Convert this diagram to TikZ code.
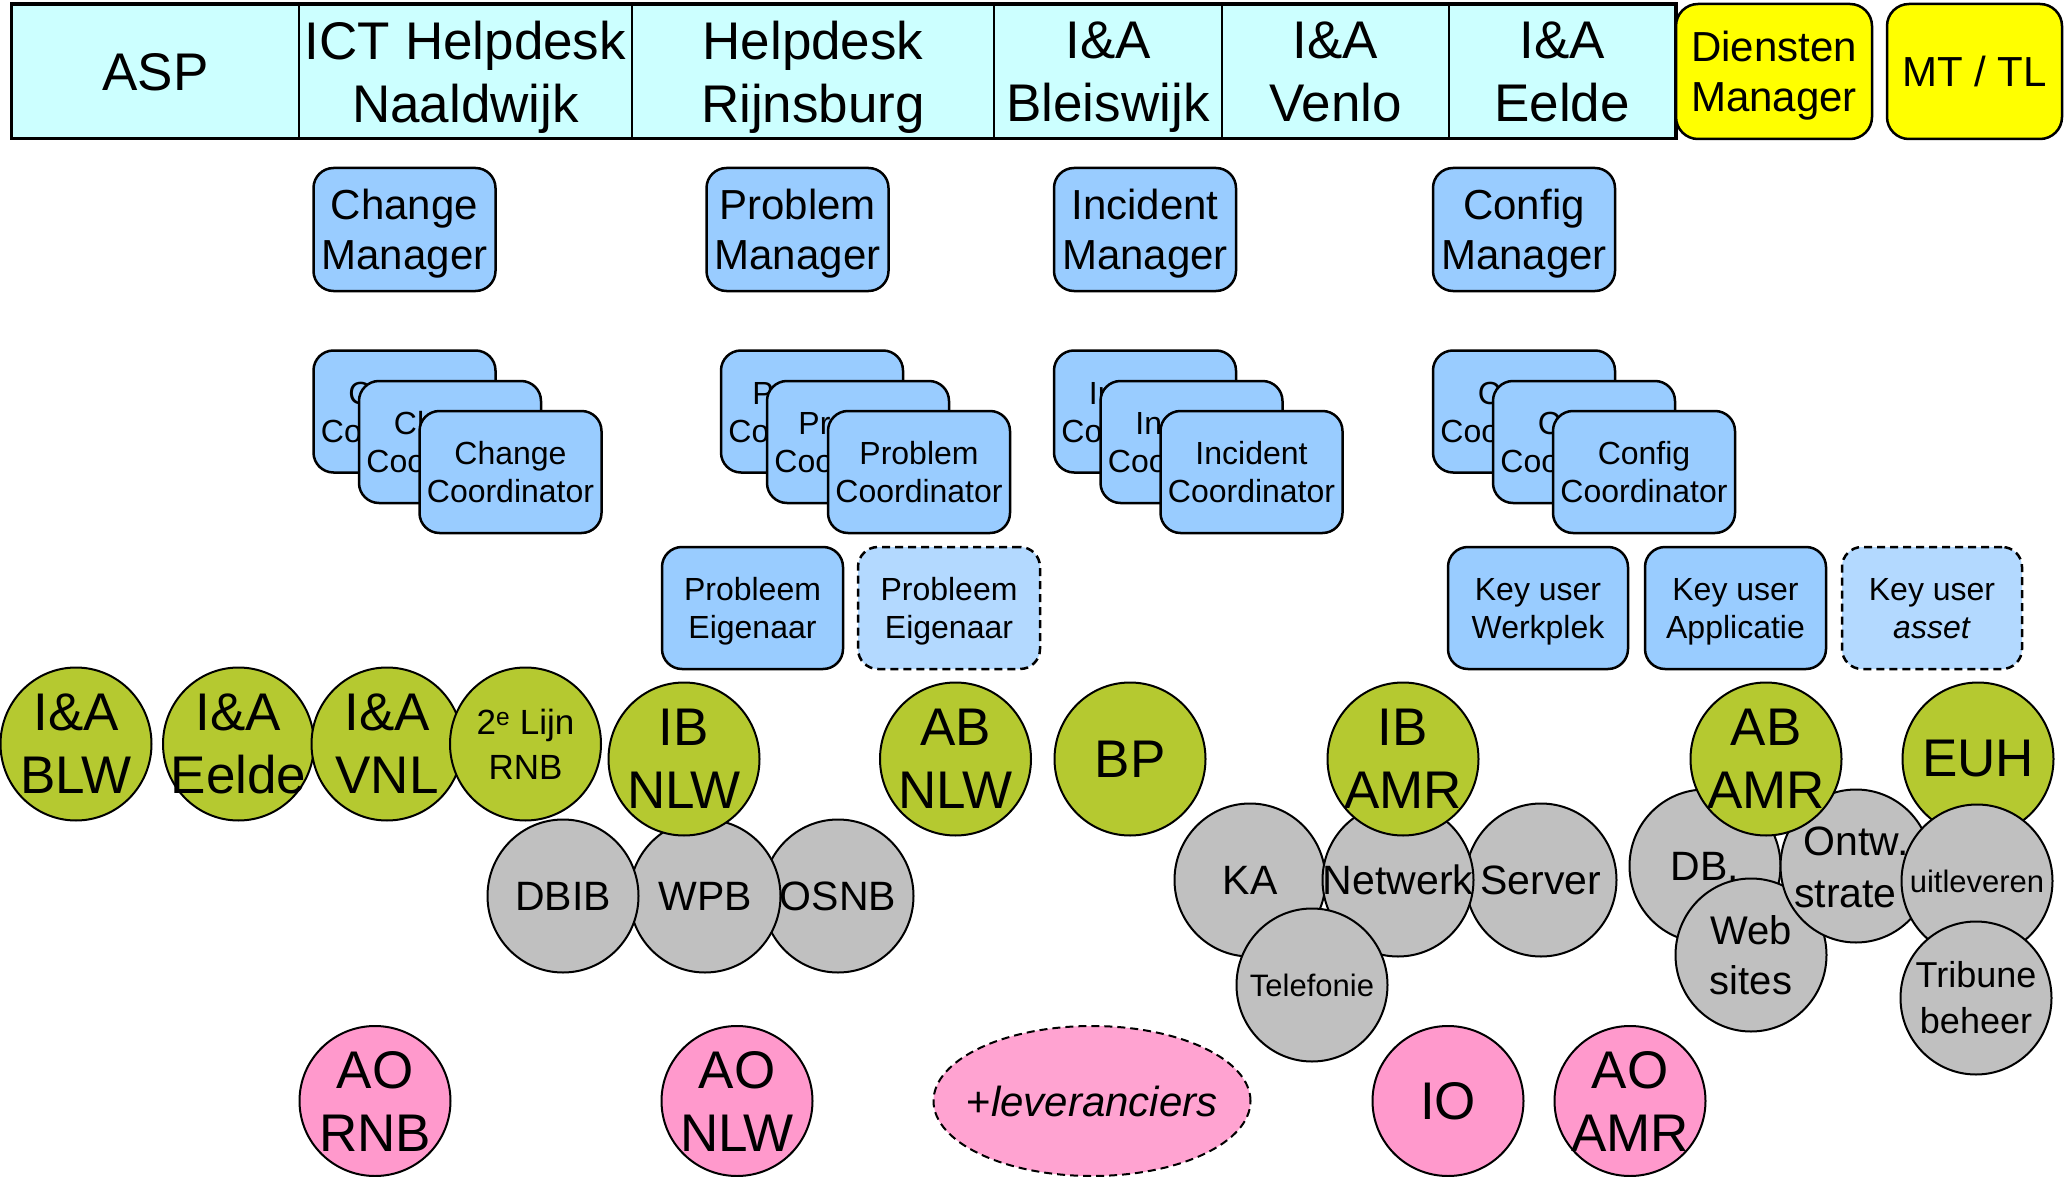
\documentclass[tikz,border=0pt]{standalone}
\usepackage{fontspec}
\setmainfont{Liberation Sans}
\usetikzlibrary{shapes.geometric}
\definecolor{hdr}{HTML}{CCFFFF}
\definecolor{yel}{HTML}{FFFF00}
\definecolor{blu}{HTML}{99CCFF}
\definecolor{lblu}{HTML}{B3D9FF}
\definecolor{grn}{HTML}{B5C930}
\definecolor{gry}{HTML}{C0C0C0}
\definecolor{pnk}{HTML}{FF99CC}
\definecolor{lpnk}{HTML}{FFA3D1}
\begin{document}
\begin{tikzpicture}[x=1pt,y=-1pt,
  every node/.style={inner sep=0pt, align=center},
  every label/.style={align=center, inner sep=0pt},
  hcell/.style={draw, fill=hdr, line width=2pt, minimum height=133pt, text depth=0pt, font=\fontsize{53}{63}\selectfont},
  ybox/.style={draw, fill=yel, rounded corners=22pt, line width=2.5pt, minimum height=135pt, text depth=0pt, font=\fontsize{42}{50}\selectfont},
  mgr/.style={draw, fill=blu, rounded corners=20pt, line width=2.5pt, minimum width=182pt, minimum height=123pt, text depth=0pt, font=\fontsize{42}{50}\selectfont},
  crd/.style={draw, fill=blu, rounded corners=20pt, line width=2.5pt, minimum width=182pt, minimum height=122pt, text depth=0pt, font=\fontsize{32}{38}\selectfont},
  dsh/.style={fill=lblu, dash pattern=on 8pt off 5pt},
  circ/.style={ellipse, draw, line width=2pt, minimum width=151pt, minimum height=153pt},
  gc/.style={circ, fill=grn},
  gr/.style={circ, fill=gry},
  pk/.style={circ, fill=pnk, minimum height=150pt},
  big/.style={font=\fontsize{53}{63}\selectfont},
  mid/.style={font=\fontsize{41}{50}\selectfont},
  sml/.style={font=\fontsize{31}{38}\selectfont}
]
\useasboundingbox (0,0) rectangle (2065,1177);

% header
\node[hcell, minimum width=287pt] (asp) at (155.5,71.5) {ASP};
\node[hcell, minimum width=333pt] (ict) at (465.5,71.5) {ICT Helpdesk\\Naaldwijk};
\node[hcell, minimum width=362pt] (rijn) at (813,71.5) {Helpdesk\\Rijnsburg};
\node[hcell, minimum width=228pt] (blei) at (1108,71.5) {I\&A\\Bleiswijk};
\node[hcell, minimum width=227pt] (venl) at (1335.5,71.5) {I\&A\\Venlo};
\node[hcell, minimum width=226pt] (eeld) at (1562,71.5) {I\&A\\Eelde};
\draw[line width=3pt] (asp.north west) rectangle (eeld.south east);
\node[ybox, minimum width=196pt] (dienst) at (1774,71.5) {Diensten\\Manager};
\node[ybox, minimum width=175pt] (mttl) at (1974.5,71.5) {MT / TL};

% managers
\node[mgr] (cm) at (404.5,229.5) {Change\\Manager};
\node[mgr] (pm) at (797.5,229.5) {Problem\\Manager};
\node[mgr] (im) at (1145,229.5) {Incident\\Manager};
\node[mgr] (km) at (1524,229.5) {Config\\Manager};

% coordinators
\node[crd] (cc1) at (404.5,411.5) {Change\\Coordinator};
\node[crd] (cc2) at (450,442) {Change\\Coordinator};
\node[crd] (cc3) at (510.5,472) {Change\\Coordinator};
\node[crd] (pc1) at (812,411.5) {Problem\\Coordinator};
\node[crd] (pc2) at (858,442) {Problem\\Coordinator};
\node[crd] (pc3) at (919,472) {Problem\\Coordinator};
\node[crd] (ic1) at (1145,411.5) {Incident\\Coordinator};
\node[crd] (ic2) at (1191.5,442) {Incident\\Coordinator};
\node[crd] (ic3) at (1251.5,472) {Incident\\Coordinator};
\node[crd] (kc1) at (1524,411.5) {Config\\Coordinator};
\node[crd] (kc2) at (1584,442) {Config\\Coordinator};
\node[crd] (kc3) at (1644,472) {Config\\Coordinator};

% owners / key users
\node[crd, minimum width=181pt] (pe1) at (752.5,608) {Probleem\\Eigenaar};
\node[crd, dsh] (pe2) at (949,608) {Probleem\\Eigenaar};
\node[crd, minimum width=180pt] (ku1) at (1538,608) {Key user\\Werkplek};
\node[crd, minimum width=181pt] (ku2) at (1735.5,608) {Key user\\Applicatie};
\node[crd, dsh, minimum width=180pt] (ku3) at (1932,608) {Key user\\\textit{asset}};

% left cluster
\node[gc, label={[big]center:I\&A\\BLW}] (blw) at (76,744) {};
\node[gc, label={[big]center:I\&A\\Eelde}] (eel) at (238.5,744) {};
\node[gc, label={[big]center:I\&A\\VNL}] (vnl) at (387,744) {};
\node[gc, label={[font=\fontsize{35}{45}\selectfont]center:2\textsuperscript{e} Lijn\\RNB}] (rnb) at (525.5,744) {};
\node[gr, label={[mid]center:OSNB}] (osnb) at (838,896) {};
\node[gr, label={[mid]center:WPB}] (wpb) at (705,896) {};
\node[gr, label={[mid]center:DBIB}] (dbib) at (563,896) {};
\node[gc, label={[big]center:IB\\NLW}] (ibnlw) at (684,759) {};
\node[gc, label={[big]center:AB\\NLW}] (abnlw) at (955.5,759) {};
\node[gc, label={[big]center:BP}] (bp) at (1130,759) {};

% middle cluster
\node[gr, label={[mid]center:KA}] (ka) at (1250,880) {};
\node[gr, label={[mid]center:Server}] (srv) at (1541,880) {};
\node[gr, label={[mid]center:Netwerk}] (net) at (1398,880) {};
\node[gc, label={[big]center:IB\\AMR}] (ibamr) at (1403,759) {};
\node[gr, label={[sml]center:Telefonie}] (tel) at (1312,985) {};

% right cluster
\node[gr, label={[mid]center:DB.}] (db) at (1705,866) {};
\node[gr, label={[font=\fontsize{40}{50}\selectfont]center:Web\\sites}] (web) at (1751,955) {};
\node[gr, label={[mid, yshift=25pt]center:Ontw.}] (ontw) at (1856,866) {};
\node[font=\fontsize{41}{50}\selectfont, anchor=west] (strat) at (1794,894) {strate};
\node[gc, label={[big]center:AB\\AMR}] (abamr) at (1766,759) {};
\node[gc, label={[big]center:EUH}] (euh) at (1978,759) {};
\node[gr, label={[sml]center:uitleveren}] (uitl) at (1977,881) {};
\node[gr, label={[font=\fontsize{36}{46}\selectfont]center:Tribune\\beheer}] (trib) at (1976,998) {};

% bottom row
\node[pk, label={[big]center:AO\\RNB}] (aornb) at (375,1101) {};
\node[pk, label={[big]center:AO\\NLW}] (aonlw) at (737,1101) {};
\node[circ, fill=lpnk, dash pattern=on 8pt off 5pt, minimum width=317pt, minimum height=150pt,
      label={[font=\fontsize{42}{50}\selectfont]center:+\textit{leveranciers}}] (lev) at (1092,1101) {};
\node[pk, label={[big]center:IO}] (io) at (1448,1101) {};
\node[pk, label={[big]center:AO\\AMR}] (aoamr) at (1630,1101) {};
\end{tikzpicture}
\end{document}
